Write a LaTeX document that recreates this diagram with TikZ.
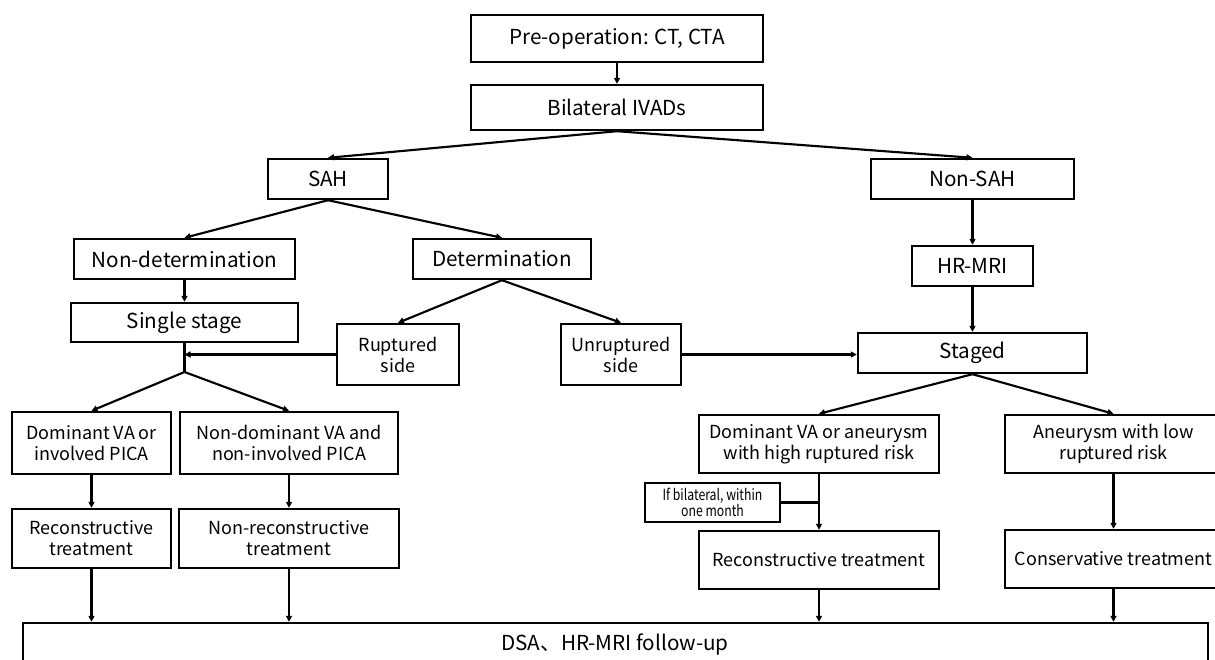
\documentclass[tikz,border=0pt]{standalone}
\usepackage{fontspec}
\setmainfont{Noto Sans CJK SC}
\newfontfamily\narrowfont[FakeStretch=0.8]{Noto Sans CJK SC}
\usetikzlibrary{arrows.meta,calc}
\tikzset{
  box/.style={draw, line width=1.8pt, rectangle, inner sep=0pt, align=center, font=\fontsize{15.5}{18}\selectfont},
  two/.style={font=\fontsize{13.5}{15.8}\selectfont},
  small/.style={font=\narrowfont\fontsize{11.5}{12.5}\selectfont},
  bx/.style 2 args={minimum width=#1*0.75pt, minimum height=#2*0.75pt},
  arr/.style={line width=1.6pt, -{Triangle[length=4.5pt,width=4.5pt]}},
  ln/.style={line width=1.6pt},
}
\begin{document}
\begin{tikzpicture}[x=0.75pt,y=-0.75pt]
\path[use as bounding box, clip] (0,0) rectangle (1215,660);
\fill[white] (0,0) rectangle (1215,660);
% nodes
\node[box, bx={292}{47}] (pre) at (617,38.5) {Pre-operation: CT, CTA};
\node[box, bx={292}{45}] (bil) at (617,107.5) {Bilateral IVADs};
\node[box, bx={120}{40}] (sah) at (328,179) {SAH};
\node[box, bx={203}{40}] (nonsah) at (972.5,179) {Non-SAH};
\node[box, bx={221}{40}] (nondet) at (184.5,259) {Non-determination};
\node[box, bx={178}{40}] (det) at (502,259) {Determination};
\node[box, bx={121}{40}] (hrmri) at (972.5,266) {HR-MRI};
\node[box, bx={227}{39}] (single) at (184.5,322.5) {Single stage};
\node[box, two, bx={122}{61}] (rupt) at (398,354.5) {Ruptured\\side};
\node[box, two, bx={120}{61}] (unrupt) at (621,354.5) {Unruptured\\side};
\node[box, bx={229}{40}] (staged) at (972.5,353) {Staged};
\node[box, two, bx={159}{62}] (dom) at (91.5,443) {Dominant VA or\\involved PICA};
\node[box, two, bx={218}{62}] (nondom) at (289,443) {Non-dominant VA and\\non-involved PICA};
\node[box, two, bx={159}{59}] (recL) at (91.5,538.5) {Reconstructive\\treatment};
\node[box, two, bx={220}{59}] (nonrec) at (289,538.5) {Non-reconstructive\\treatment};
\node[box, two, bx={240}{58}] (domR) at (819,444) {Dominant VA or aneurysm\\with high ruptured risk};
\node[box, two, bx={217}{58}] (low) at (1113.5,444) {Aneurysm with low\\ruptured risk};
\node[box, small, bx={135}{39}] (bilat) at (712.5,502.5) {If bilateral, within\\one month};
\node[box, two, bx={240}{58}] (recR) at (819,560) {Reconstructive treatment};
\node[box, two, bx={217}{58}] (cons) at (1113.5,559) {Conservative treatment};
\node[box, bx={1185}{90}] (dsa) at (615.5,668) {};
\node[font=\fontsize{15.5}{18}\selectfont] (dsatext) at (615,645) {DSA、HR-MRI follow-up};
\coordinate (j1) at (184.5,372);
% connectors
\draw[arr] (pre) -- (bil);
\draw[arr] (bil.south) -- (sah.north);
\draw[arr] (bil.south) -- (nonsah.north);
\draw[arr] (sah.south) -- (nondet.north);
\draw[arr] (sah.south) -- (det.north);
\draw[arr] (nonsah) -- (hrmri);
\draw[arr] (nondet) -- (single);
\draw[arr] (det.south) -- (rupt.north);
\draw[arr] (det.south) -- (unrupt.north);
\draw[arr] (hrmri) -- (staged);
\draw[arr] (unrupt.east) -- (unrupt.east -| staged.west);
\draw[ln] (single.south) -- (j1);
\draw[arr] (rupt.west) -- (rupt.west -| j1);
\draw[arr] (j1) -- (dom.north);
\draw[arr] (j1) -- (nondom.north);
\draw[arr] (dom) -- (recL);
\draw[arr] (nondom) -- (nonrec);
\draw[arr] (recL.south) -- (recL.south |- dsa.north);
\draw[arr] (nonrec.south) -- (nonrec.south |- dsa.north);
\draw[arr] (staged.south) -- (domR.north);
\draw[arr] (staged.south) -- (low.north);
\draw[arr] (domR) -- (recR);
\draw[ln] (bilat.east) -- (bilat.east -| domR.south);
\draw[arr] (low) -- (cons);
\draw[arr] (recR.south) -- (recR.south |- dsa.north);
\draw[arr] (cons.south) -- (cons.south |- dsa.north);
\end{tikzpicture}
\end{document}
